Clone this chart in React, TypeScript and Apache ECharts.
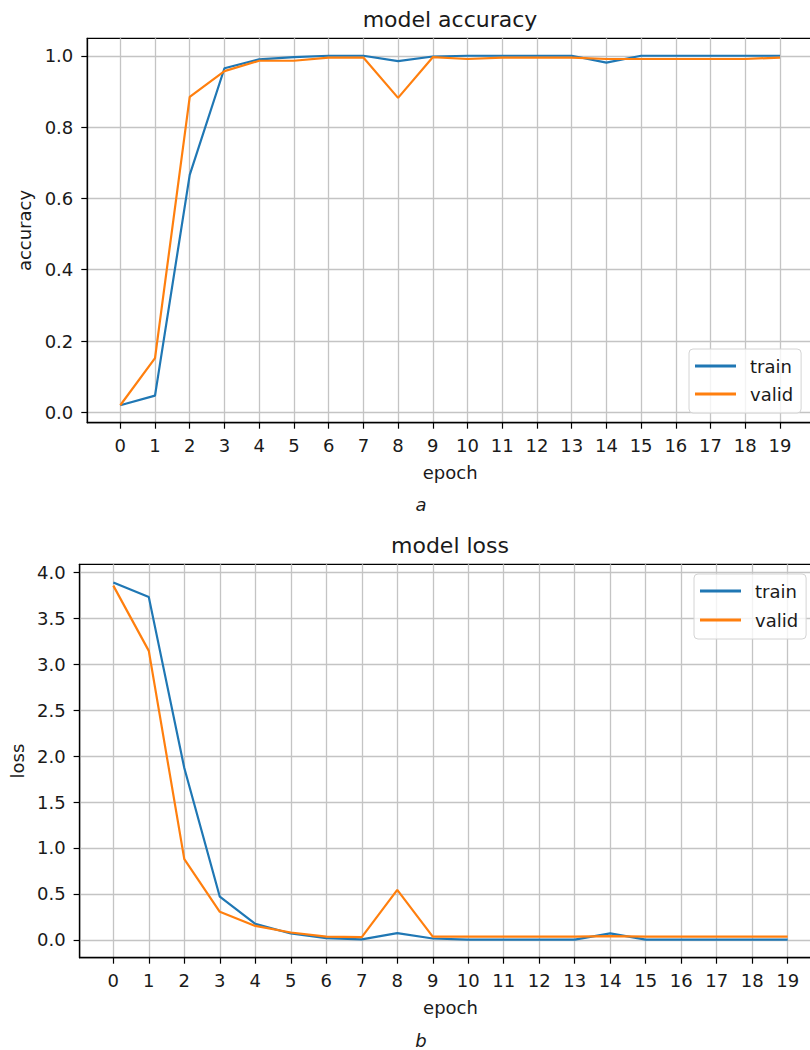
import React, { useEffect, useRef } from 'react';
import * as echarts from 'echarts';

const epochs = [0, 1, 2, 3, 4, 5, 6, 7, 8, 9, 10, 11, 12, 13, 14, 15, 16, 17, 18, 19];
const seriesNames = ['train', 'valid'];

const accTrain = [0.02, 0.047, 0.666, 0.965, 0.99, 0.996, 1.0, 1.0, 0.985, 0.998, 1.0, 1.0, 1.0, 1.0, 0.981, 1.0, 1.0, 1.0, 1.0, 1.0];
const accValid = [0.02, 0.152, 0.885, 0.957, 0.986, 0.986, 0.995, 0.995, 0.882, 0.996, 0.991, 0.995, 0.995, 0.995, 0.991, 0.991, 0.991, 0.991, 0.991, 0.995];

const lossTrain = [3.89, 3.73, 1.87, 0.47, 0.174, 0.07, 0.02, 0.005, 0.073, 0.015, 0.003, 0.003, 0.003, 0.003, 0.07, 0.003, 0.003, 0.003, 0.003, 0.003];
const lossValid = [3.855, 3.145, 0.878, 0.305, 0.152, 0.08, 0.035, 0.03, 0.544, 0.036, 0.035, 0.035, 0.035, 0.035, 0.04, 0.035, 0.035, 0.035, 0.035, 0.035];

const accTicks = [0, 0.2, 0.4, 0.6, 0.8, 1.0];
const lossTicks = [0, 0.5, 1.0, 1.5, 2.0, 2.5, 3.0, 3.5, 4.0];

const FONT = 'DejaVu Sans';
const TXT = '#1a1a1a';
const BLUE = '#1f77b4';
const ORANGE = '#ff7f0e';
const GRIDC = '#c4c4c4';

function xAxisOpt(gridIndex: number) {
  return {
    type: 'value',
    gridIndex,
    min: -0.95,
    max: 19.95,
    name: 'epoch',
    nameLocation: 'middle',
    nameGap: 41,
    nameTextStyle: { fontFamily: FONT, fontSize: 18, color: TXT },
    axisLine: { onZero: false, lineStyle: { color: '#000', width: 1.3 } },
    axisTick: { show: true, length: 6, customValues: epochs, lineStyle: { color: '#000', width: 1.2 } },
    axisLabel: { customValues: epochs, margin: 14, fontFamily: FONT, fontSize: 18, color: TXT },
    splitLine: { show: true, lineStyle: { color: GRIDC, width: 1.3 } },
  };
}

function yAxisOpt(gridIndex: number, name: string, min: number, max: number, ticks: number[]) {
  return {
    type: 'value',
    gridIndex,
    min,
    max,
    name,
    nameLocation: 'middle',
    nameGap: 52,
    nameTextStyle: { fontFamily: FONT, fontSize: 18, color: TXT },
    axisLine: { show: true, onZero: false, lineStyle: { color: '#000', width: 1.3 } },
    axisTick: { show: true, length: 6, customValues: ticks, lineStyle: { color: '#000', width: 1.2 } },
    axisLabel: {
      customValues: ticks,
      margin: 14,
      fontFamily: FONT,
      fontSize: 18,
      color: TXT,
      formatter: (v: number) => v.toFixed(1),
    },
    splitLine: { show: true, lineStyle: { color: GRIDC, width: 1.3 } },
  };
}

function lineSeries(name: string, values: number[], color: string, idx: number) {
  return {
    type: 'line',
    name,
    xAxisIndex: idx,
    yAxisIndex: idx,
    data: epochs.map((e, i) => [e, values[i]]),
    symbol: 'none',
    lineStyle: { color, width: 2.2 },
    itemStyle: { color },
    z: 3,
  };
}

function legendOpt(left: number, top: number, gap: number) {
  return {
    left,
    top,
    orient: 'vertical',
    icon: 'rect',
    itemWidth: 41,
    itemHeight: 3,
    itemGap: gap,
    padding: [8, 8, 10, 6],
    backgroundColor: 'rgba(255,255,255,0.8)',
    borderColor: '#d4d4d4',
    borderWidth: 1,
    borderRadius: 4,
    textStyle: { fontFamily: FONT, fontSize: 18, color: TXT, padding: [0, 0, 0, 9] },
    data: seriesNames,
  };
}

export default function App() {
  const ref = useRef<HTMLDivElement>(null);
  useEffect(() => {
    document.body.style.margin = '0';
    const chart = echarts.init(ref.current!, null, { renderer: 'svg' });
    chart.setOption({
      animation: false,
      backgroundColor: '#fff',
      grid: [
        { left: 87.3, top: 38.3, width: 725.7, height: 384.4, show: true, borderColor: '#000', borderWidth: 1.3, containLabel: false, outerBoundsMode: 'none' },
        { left: 79.6, top: 564.3, width: 741.8, height: 393.4, show: true, borderColor: '#000', borderWidth: 1.3, containLabel: false, outerBoundsMode: 'none' },
      ],
      xAxis: [xAxisOpt(0), xAxisOpt(1)],
      yAxis: [
        yAxisOpt(0, 'accuracy', -0.029, 1.049, accTicks),
        yAxisOpt(1, 'loss', -0.194, 4.087, lossTicks),
      ],
      legend: [legendOpt(689, 349, 10), legendOpt(694, 574, 11)],
      series: [
        lineSeries(seriesNames[0], accTrain, BLUE, 0),
        lineSeries(seriesNames[1], accValid, ORANGE, 0),
        lineSeries(seriesNames[0], lossTrain, BLUE, 1),
        lineSeries(seriesNames[1], lossValid, ORANGE, 1),
      ],
      graphic: [
        { type: 'text', x: 450, y: 19, style: { text: 'model accuracy', fontFamily: FONT, fontSize: 22, fill: TXT, textAlign: 'center', textVerticalAlign: 'middle' } },
        { type: 'text', x: 450, y: 545, style: { text: 'model loss', fontFamily: FONT, fontSize: 22, fill: TXT, textAlign: 'center', textVerticalAlign: 'middle' } },
        { type: 'text', x: 421, y: 504, style: { text: 'a', fontFamily: FONT, fontStyle: 'italic', fontSize: 18, fill: TXT, textAlign: 'center', textVerticalAlign: 'middle' } },
        { type: 'text', x: 421, y: 1040, style: { text: 'b', fontFamily: FONT, fontStyle: 'italic', fontSize: 18, fill: TXT, textAlign: 'center', textVerticalAlign: 'middle' } },
      ],
    });
    return () => chart.dispose();
  }, []);
  return <div ref={ref} style={{ width: 810, height: 1050 }} />;
}
